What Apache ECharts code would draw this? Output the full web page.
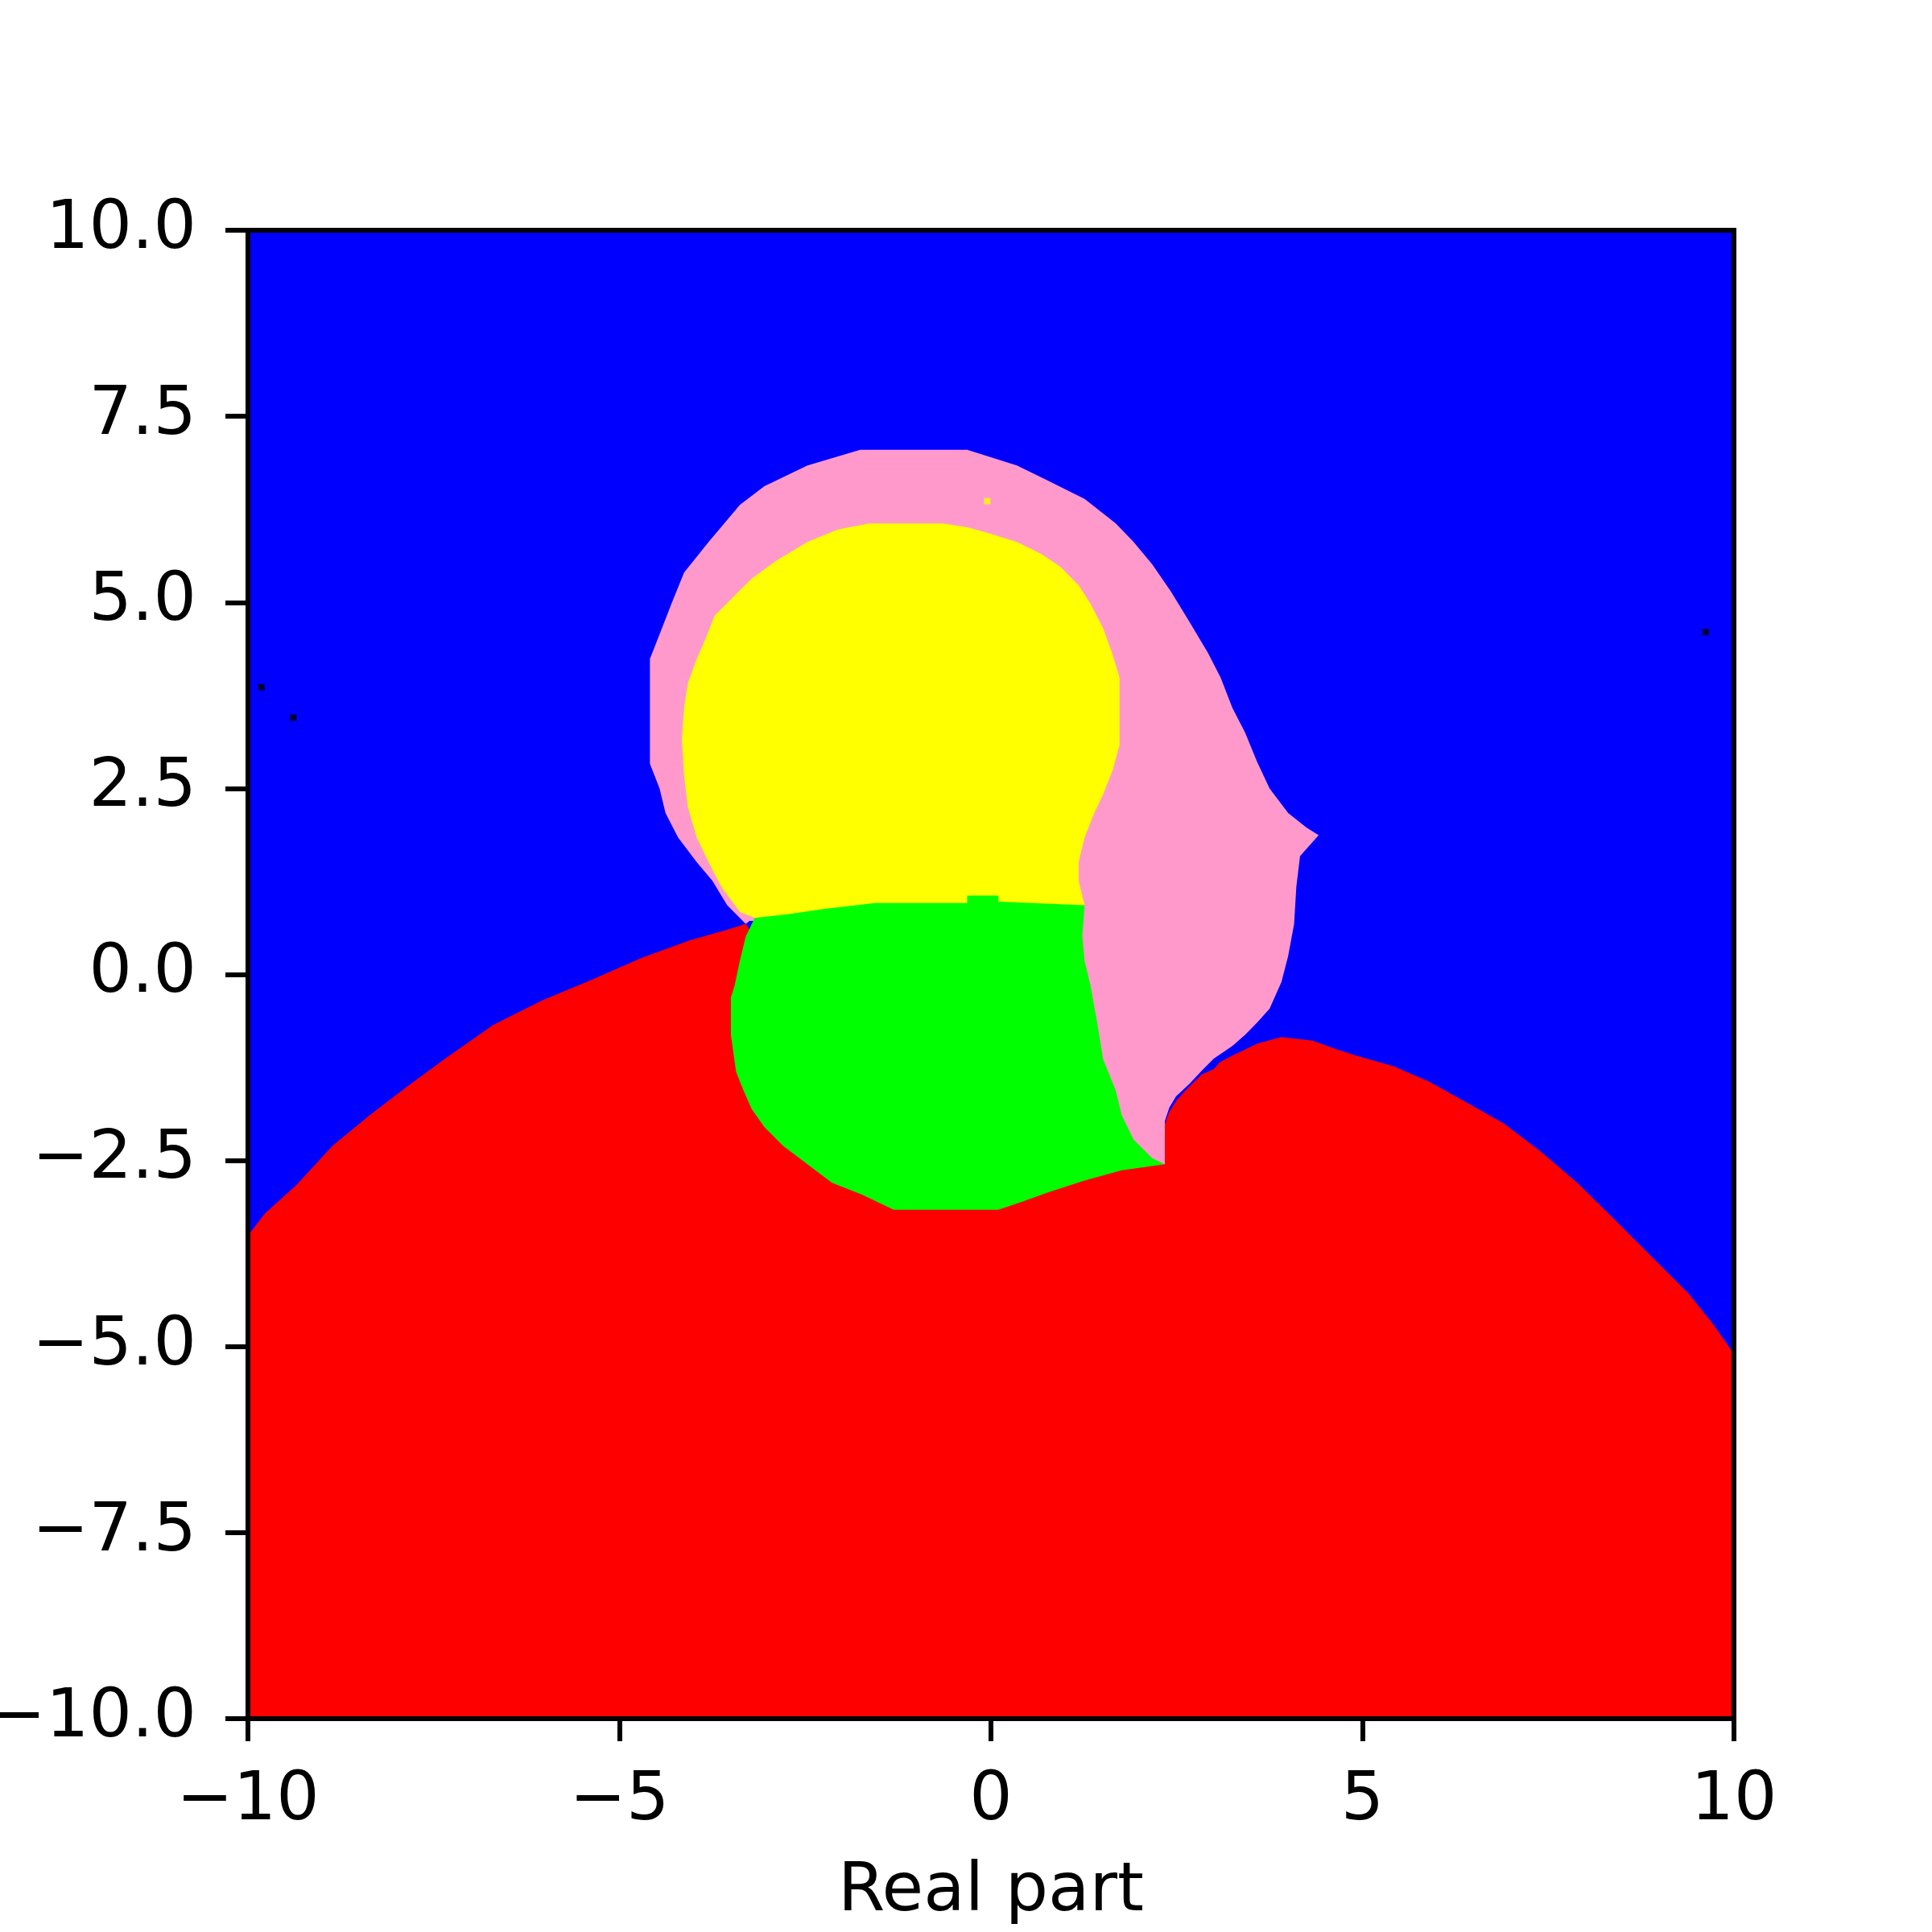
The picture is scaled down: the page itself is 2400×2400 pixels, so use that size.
<!DOCTYPE html>
<html>
<head>
<meta charset="utf-8">
<script src="https://cdn.jsdelivr.net/npm/echarts@6/dist/echarts.min.js"></script>
<style>
  html, body { margin: 0; background: #fff; }
  #chart { width: 2400px; height: 2400px; }
</style>
</head>
<body>
<div id="chart"></div>
<script>
// basin outlines, as [real, imag]
const blueOutline = [[-10, -10], [10, -10], [10, 10], [-10, 10]];

const redOutline = [
  [-10, -10], [-10, -3.51], [-9.77, -3.21], [-9.35, -2.83], [-8.86, -2.30], [-8.36, -1.89],
  [-7.86, -1.51], [-7.36, -1.14], [-6.70, -0.68], [-6.04, -0.35], [-5.37, -0.07],
  [-4.71, 0.22], [-4.05, 0.46], [-3.55, 0.60], [-3.30, 0.68],
  [-3.15, 0.45], [-1.70, -2.40], [2.00, -2.52], [2.34, -2.55],
  [2.34, -2.01], [2.40, -1.85], [2.50, -1.69], [2.59, -1.59], [2.67, -1.51], [2.84, -1.34],
  [3.00, -1.27], [3.08, -1.18], [3.25, -1.09], [3.42, -1.01], [3.58, -0.93], [3.91, -0.84],
  [4.33, -0.89], [4.66, -1.01], [4.91, -1.09], [5.41, -1.23], [5.90, -1.44], [6.40, -1.72],
  [6.90, -2.00], [7.40, -2.38], [7.89, -2.80], [8.39, -3.29], [8.89, -3.79], [9.39, -4.29],
  [9.72, -4.70], [10, -5.10], [10, -10]
];

const pinkOutline = [
  [-3.30, 0.68], [-3.38, 0.76], [-3.55, 0.93], [-3.75, 1.26], [-3.96, 1.51], [-4.21, 1.84],
  [-4.38, 2.17], [-4.46, 2.50], [-4.59, 2.83], [-4.59, 4.24], [-4.46, 4.57], [-4.30, 4.98],
  [-4.13, 5.40], [-3.80, 5.81], [-3.38, 6.31], [-3.05, 6.56], [-2.47, 6.84], [-1.76, 7.05],
  [-0.32, 7.05], [-0.07, 6.97], [0.35, 6.84], [0.76, 6.64], [1.26, 6.39], [1.68, 6.06],
  [1.92, 5.81], [2.17, 5.51], [2.42, 5.15], [2.67, 4.74], [2.92, 4.32], [3.09, 3.99],
  [3.25, 3.58], [3.42, 3.25], [3.58, 2.86], [3.75, 2.50], [4.00, 2.17], [4.25, 1.97],
  [4.41, 1.87], [4.16, 1.59], [4.11, 1.18], [4.08, 0.68], [4.00, 0.25], [3.91, -0.10],
  [3.75, -0.46], [3.58, -0.65], [3.42, -0.81], [3.25, -0.96], [3.00, -1.13], [2.84, -1.29],
  [2.67, -1.47], [2.49, -1.64], [2.40, -1.79], [2.34, -1.97], [2.34, -2.55],
  [2.00, -2.50], [1.00, -2.40], [1.00, 0.75], [-3.25, 0.72]
];

const yellowOutline = [
  [-3.18, 0.76], [-3.38, 0.84], [-3.63, 1.18], [-3.80, 1.51], [-3.96, 1.84], [-4.08, 2.25],
  [-4.13, 2.67], [-4.16, 3.16], [-4.13, 3.58], [-4.08, 3.91], [-3.96, 4.24], [-3.85, 4.49],
  [-3.72, 4.82], [-3.47, 5.07], [-3.22, 5.32], [-2.89, 5.56], [-2.47, 5.81], [-2.06, 5.98],
  [-1.64, 6.06], [-0.65, 6.06], [-0.32, 6.01], [-0.07, 5.94], [0.35, 5.81], [0.68, 5.65],
  [0.93, 5.48], [1.18, 5.23], [1.34, 4.98], [1.51, 4.65], [1.63, 4.32], [1.73, 3.99],
  [1.73, 3.08], [1.64, 2.75], [1.51, 2.42], [1.39, 2.17], [1.26, 1.84], [1.18, 1.51],
  [1.18, 1.26], [1.26, 0.93], [1.10, 0.80]
];

const greenOutline = [
  [-3.18, 0.76], [-2.72, 0.81], [-2.26, 0.88], [-1.56, 0.96], [-0.32, 0.96], [-0.32, 1.06],
  [0.10, 1.06], [0.10, 0.98], [1.26, 0.93], [1.23, 0.51], [1.26, 0.18], [1.34, -0.15],
  [1.43, -0.65], [1.51, -1.14], [1.68, -1.56], [1.76, -1.89], [1.92, -2.22], [2.17, -2.47],
  [2.34, -2.55], [1.76, -2.63], [1.26, -2.77], [0.76, -2.93], [0.43, -3.05], [0.10, -3.16],
  [-1.31, -3.16], [-1.73, -2.96], [-2.14, -2.80], [-2.47, -2.55], [-2.80, -2.30],
  [-3.05, -2.05], [-3.22, -1.81], [-3.33, -1.56], [-3.43, -1.31], [-3.50, -0.81],
  [-3.50, -0.31], [-3.45, -0.15], [-3.38, 0.18], [-3.30, 0.51]
];

// single stray cells
const blackCells = [[-9.82, 3.86], [-9.39, 3.45], [9.62, 4.60]];
const yellowCells = [[-0.05, 6.36]];

const xTicks = [-10, -5, 0, 5, 10];
const yTicks = [-10, -7.5, -5, -2.5, 0, 2.5, 5, 7.5, 10];

const regions = [
  { name: 'blue', color: '#0000ff', pts: blueOutline },
  { name: 'red', color: '#ff0000', pts: redOutline },
  { name: 'pink', color: '#ff99cc', pts: pinkOutline },
  { name: 'yellow', color: '#ffff00', pts: yellowOutline },
  { name: 'green', color: '#00ff00', pts: greenOutline }
];

const fontFamily = 'DejaVu Sans';
const minus = v => String(v).replace('-', '\u2212');

const chart = echarts.init(document.getElementById('chart'), null, { renderer: 'canvas' });

const regionSeries = regions.map((r, i) => ({
  type: 'custom',
  name: r.name,
  coordinateSystem: 'cartesian2d',
  clip: true,
  silent: true,
  z: 2 + i,
  data: r.pts,
  encode: { x: 0, y: 1 },
  renderItem: function (params, api) {
    if (params.dataIndex !== 0) return;
    return {
      type: 'polygon',
      shape: { points: r.pts.map(p => api.coord(p)) },
      style: { fill: r.color, stroke: null }
    };
  }
}));

const axisCommon = {
  min: -10,
  max: 10,
  splitLine: { show: false },
  axisLine: { show: true, onZero: false, lineStyle: { color: '#000', width: 6, cap: 'square' } },
  z: 20
};

chart.setOption({
  animation: false,
  backgroundColor: '#fff',
  grid: { left: 308, top: 286, width: 1846, height: 1849, outerBoundsMode: 'none', containLabel: false },
  xAxis: [
    Object.assign({}, axisCommon, {
      type: 'value',
      position: 'bottom',
      interval: 5,
      axisTick: { show: true, length: 28, lineStyle: { color: '#000', width: 6 } },
      axisLabel: {
        show: true, margin: 61, fontSize: 84, color: '#000', fontFamily: fontFamily,
        customValues: xTicks, formatter: v => minus(v)
      },
      name: 'Real part',
      nameLocation: 'middle',
      nameGap: 174,
      nameTextStyle: { fontSize: 84, color: '#000', fontFamily: fontFamily }
    }),
    Object.assign({}, axisCommon, {
      type: 'value',
      position: 'top',
      axisTick: { show: false },
      axisLabel: { show: false }
    })
  ],
  yAxis: [
    Object.assign({}, axisCommon, {
      type: 'value',
      position: 'left',
      interval: 2.5,
      axisTick: { show: true, length: 28, lineStyle: { color: '#000', width: 6 } },
      axisLabel: {
        show: true, margin: 64, fontSize: 84, color: '#000', fontFamily: fontFamily,
        customValues: yTicks, formatter: v => minus(v.toFixed(1))
      }
    }),
    Object.assign({}, axisCommon, {
      type: 'value',
      position: 'right',
      axisTick: { show: false },
      axisLabel: { show: false }
    })
  ],
  series: regionSeries.concat([
    {
      type: 'scatter',
      name: 'black cells',
      symbol: 'rect',
      symbolSize: 8,
      z: 10,
      silent: true,
      itemStyle: { color: '#000' },
      data: blackCells
    },
    {
      type: 'scatter',
      name: 'yellow cells',
      symbol: 'rect',
      symbolSize: 8,
      z: 10,
      silent: true,
      itemStyle: { color: '#ffff00' },
      data: yellowCells
    }
  ])
});
</script>
</body>
</html>
